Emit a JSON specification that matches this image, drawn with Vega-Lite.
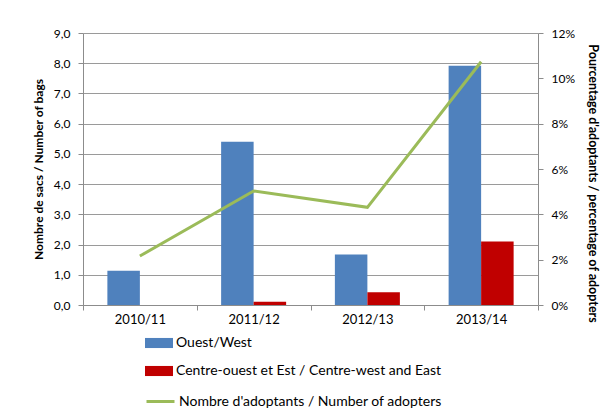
{
  "$schema": "https://vega.github.io/schema/vega-lite/v6.json",
  "autosize": "none",
  "padding": {"left": 83, "top": 33, "right": 66, "bottom": 111},
  "width": 455,
  "height": 272,
  "config": {
    "view": {"stroke": null},
    "font": "Lato",
    "axis": {"labelFont": "Lato", "titleFont": "Lato", "labelColor": "#000000", "titleColor": "#000000", "domainColor": "#8c8c8c", "tickColor": "#8c8c8c", "gridColor": "#9a9a9a"},
    "legend": {"labelFont": "Lato", "padding": 0}
  },
  "datasets": {
    "bars": [
      {"year": "2010/11", "series": "Ouest/West", "bags": 1.13},
      {"year": "2010/11", "series": "Centre-ouest et Est / Centre-west and East", "bags": 0},
      {"year": "2011/12", "series": "Ouest/West", "bags": 5.4},
      {"year": "2011/12", "series": "Centre-ouest et Est / Centre-west and East", "bags": 0.11},
      {"year": "2012/13", "series": "Ouest/West", "bags": 1.67},
      {"year": "2012/13", "series": "Centre-ouest et Est / Centre-west and East", "bags": 0.42},
      {"year": "2013/14", "series": "Ouest/West", "bags": 7.92},
      {"year": "2013/14", "series": "Centre-ouest et Est / Centre-west and East", "bags": 2.1}
    ],
    "adopters": [
      {"year": "2010/11", "series": "Nombre d'adoptants / Number of adopters", "pct": 0.0216},
      {"year": "2011/12", "series": "Nombre d'adoptants / Number of adopters", "pct": 0.0503},
      {"year": "2012/13", "series": "Nombre d'adoptants / Number of adopters", "pct": 0.0431},
      {"year": "2013/14", "series": "Nombre d'adoptants / Number of adopters", "pct": 0.1073}
    ]
  },
  "encoding": {
    "x": {
      "field": "year", "type": "nominal", "sort": null,
      "scale": {"paddingInner": 0, "paddingOuter": 0},
      "axis": {"title": null, "labelAngle": 0, "tickBand": "extent", "tickSize": 5, "labelFontSize": 13, "labelPadding": 3, "grid": false}
    }
  },
  "layer": [
    {
      "data": {"name": "bars"},
      "mark": {"type": "bar"},
      "encoding": {
        "xOffset": {"field": "series", "type": "nominal", "sort": ["Ouest/West", "Centre-ouest et Est / Centre-west and East"], "scale": {"paddingInner": 0, "paddingOuter": 0.75}},
        "y": {
          "field": "bags", "type": "quantitative",
          "scale": {"domain": [0, 9], "nice": false},
          "axis": {"title": "Nombre de sacs / Number of bags", "titleFontSize": 12, "titleFontWeight": "bold", "values": [0,1,2,3,4,5,6,7,8,9], "labelExpr": "replace(format(datum.value, '.1f'), '.', ',')", "labelFontSize": 12, "labelPadding": 8, "tickSize": 5, "grid": true, "titlePadding": 8}
        },
        "color": {
          "field": "series", "type": "nominal",
          "scale": {"domain": ["Ouest/West", "Centre-ouest et Est / Centre-west and East"], "range": ["#4F81BD", "#C00000"]},
          "legend": {"title": null, "orient": "none", "legendX": 62, "legendY": 296, "direction": "vertical", "symbolType": "M-1,-0.36H1V0.36H-1Z", "symbolSize": 784, "symbolStrokeWidth": 0, "labelFontSize": 14, "labelOffset": 3, "rowPadding": 7, "labelLimit": 0, "labelColor": "#000000"}
        }
      }
    },
    {
      "data": {"name": "adopters"},
      "mark": {"type": "line", "strokeWidth": 3},
      "encoding": {
        "y": {
          "field": "pct", "type": "quantitative",
          "scale": {"domain": [0, 0.12], "nice": false},
          "axis": {"orient": "right", "title": "Pourcentage d'adoptants / percentage of adopters", "titleFontSize": 12.5, "titleFontWeight": "bold", "titleY": 150, "values": [0, 0.02, 0.04, 0.06, 0.08, 0.1, 0.12], "format": ".0%", "labelFontSize": 12, "labelPadding": 8, "tickSize": 5, "grid": false, "titlePadding": 11}
        },
        "stroke": {
          "field": "series", "type": "nominal",
          "scale": {"range": ["#9BBB59"]},
          "legend": {"title": null, "orient": "none", "legendX": 62, "legendY": 353, "symbolType": "stroke", "symbolSize": 784, "symbolStrokeWidth": 3, "labelFontSize": 14, "labelOffset": 3, "labelLimit": 0, "labelColor": "#000000"}
        }
      }
    }
  ],
  "resolve": {"scale": {"y": "independent"}}
}
